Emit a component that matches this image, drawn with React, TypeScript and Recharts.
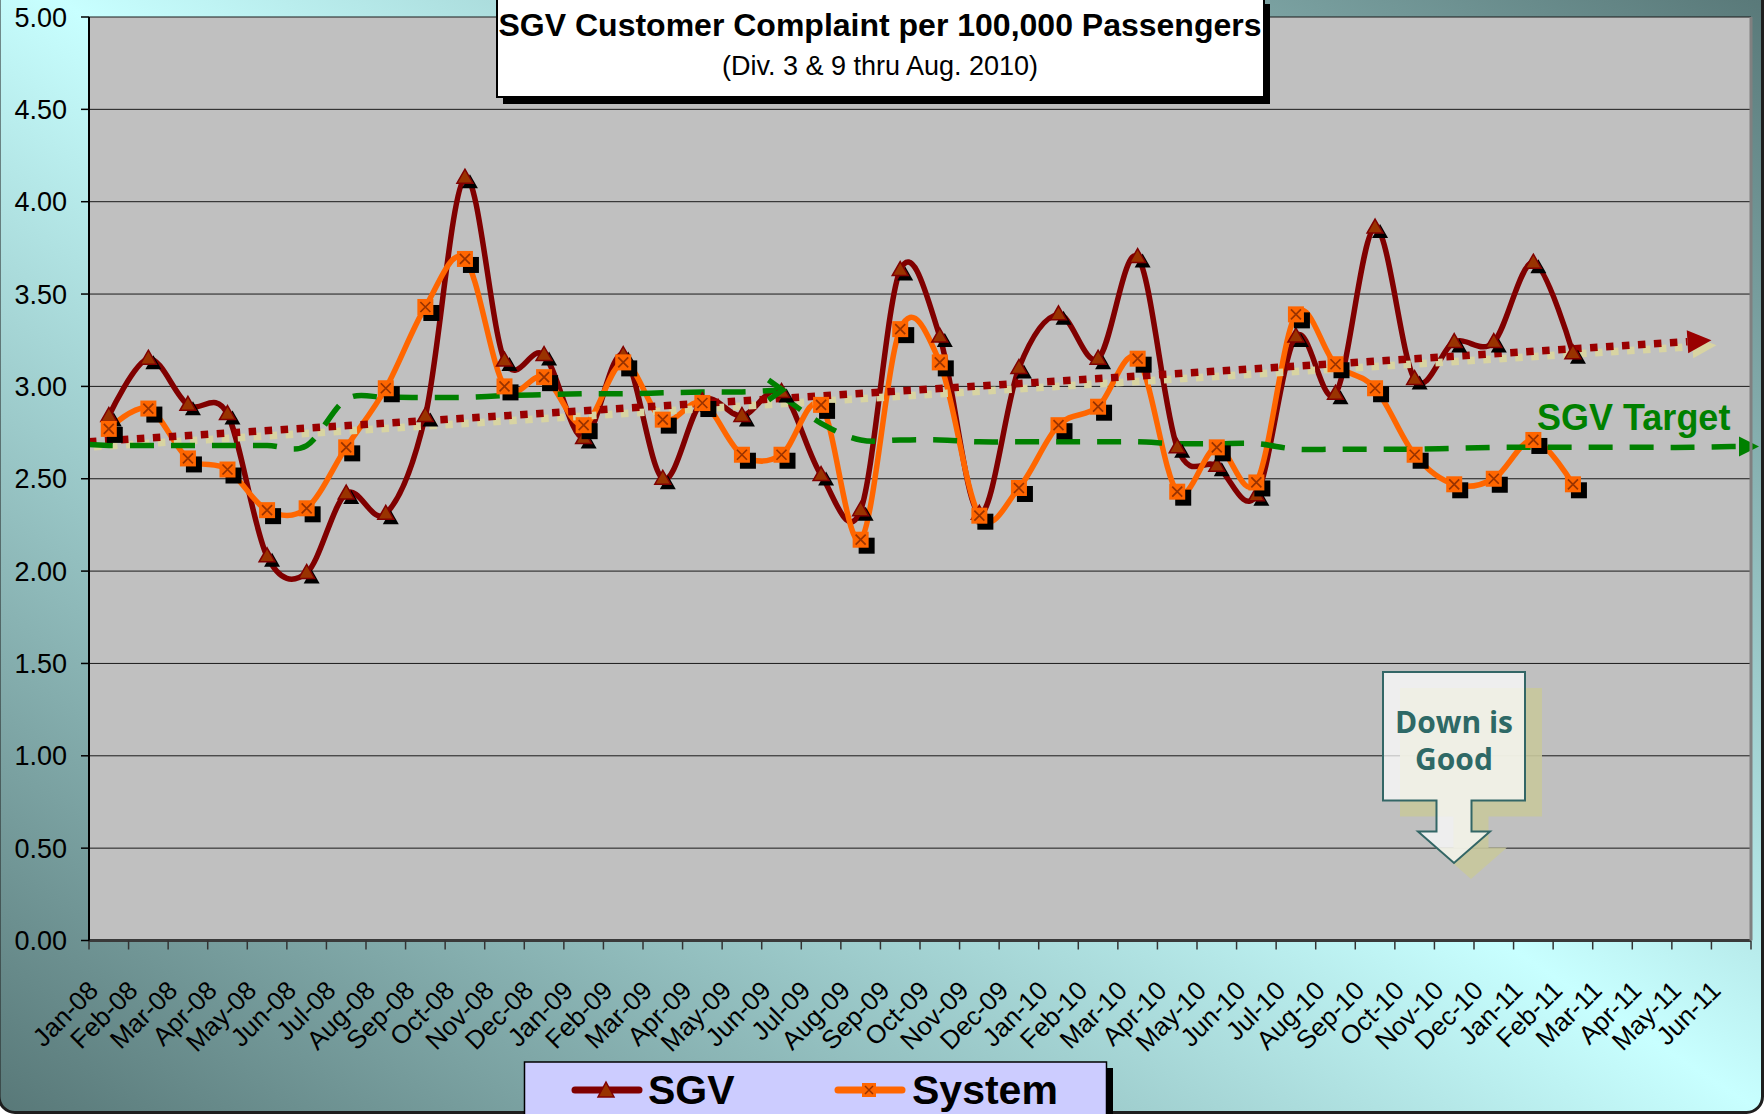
import React from 'react';
import { LineChart, Line, XAxis, YAxis, CartesianGrid, ReferenceLine } from 'recharts';

// ---------- data ----------
const months = [
  'Jan-08', 'Feb-08', 'Mar-08', 'Apr-08', 'May-08', 'Jun-08', 'Jul-08', 'Aug-08', 'Sep-08', 'Oct-08', 'Nov-08', 'Dec-08',
  'Jan-09', 'Feb-09', 'Mar-09', 'Apr-09', 'May-09', 'Jun-09', 'Jul-09', 'Aug-09', 'Sep-09', 'Oct-09', 'Nov-09', 'Dec-09',
  'Jan-10', 'Feb-10', 'Mar-10', 'Apr-10', 'May-10', 'Jun-10', 'Jul-10', 'Aug-10', 'Sep-10', 'Oct-10', 'Nov-10', 'Dec-10',
  'Jan-11', 'Feb-11', 'Mar-11', 'Apr-11', 'May-11', 'Jun-11',
];

const sgvValues = [
  2.84, 3.15, 2.90, 2.85, 2.08, 1.99, 2.42, 2.31, 2.84, 4.13, 3.14, 3.17,
  2.72, 3.17, 2.50, 2.92, 2.84, 2.97, 2.52, 2.33, 3.63, 3.27, 2.31, 3.10,
  3.39, 3.15, 3.70, 2.67, 2.57, 2.41, 3.27, 2.96, 3.86, 3.04, 3.24, 3.24,
  3.67, 3.18,
];

const systemValues = [
  2.77, 2.88, 2.61, 2.55, 2.33, 2.34, 2.67, 2.99, 3.43, 3.69, 3.00, 3.05,
  2.79, 3.13, 2.82, 2.91, 2.63, 2.63, 2.90, 2.17, 3.31, 3.13, 2.30, 2.45,
  2.79, 2.89, 3.15, 2.43, 2.67, 2.48, 3.39, 3.12, 2.99, 2.63, 2.47, 2.50,
  2.71, 2.47,
];

// SGV Target (drawn in two pieces): first piece Jan-08 .. Jun-09
const TARGET_A_START = 2.685; // at left edge of plot
const targetAValues = [2.68, 2.68, 2.68, 2.68, 2.68, 2.68, 2.93, 2.94, 2.94, 2.94, 2.95, 2.955, 2.96, 2.96, 2.965, 2.97, 2.97, 2.98];
// second piece Jun-09 .. Jun-11
const TARGET_B_FROM = 17;
const targetBValues = [2.95, 2.80, 2.71, 2.71, 2.71, 2.70, 2.70, 2.70, 2.70, 2.70, 2.69, 2.69, 2.69, 2.66, 2.66, 2.66, 2.66, 2.665, 2.67, 2.67, 2.67, 2.67, 2.67, 2.67, 2.675];
const TARGET_B_END = 2.675; // at right edge of plot

// SGV linear trend (start at left edge, end with arrow)
const trendStart = { x: -0.5, y: 2.70 };
const trendEnd = { x: 40.5, y: 3.25 };

const yTicks = [0, 0.5, 1, 1.5, 2, 2.5, 3, 3.5, 4, 4.5, 5];

// ---------- layout ----------
const W = 1764;
const H = 1114;
const PLOT = { left: 89, right: 1751, top: 17, bottom: 940.5 };
const BW = (PLOT.right - PLOT.left) / months.length;
const FONT = "'Liberation Sans', Arial, Helvetica, sans-serif";

const chartData = [
  { x: -0.5, targetA: TARGET_A_START },
  ...months.map((m, i) => ({
    x: i,
    month: m,
    sgv: i < sgvValues.length ? sgvValues[i] : null,
    system: i < systemValues.length ? systemValues[i] : null,
    targetA: i < targetAValues.length ? targetAValues[i] : null,
    targetB: i >= TARGET_B_FROM ? targetBValues[i - TARGET_B_FROM] : null,
  })),
  { x: months.length - 0.5, targetB: TARGET_B_END },
];

const xTickValues = months.map((_, i) => i - 0.5).concat([months.length - 0.5]);

// ---------- Excel-like smoothing (cardinal / Catmull-Rom) ----------
class CardinalCurve {
  _context: any;
  _k: number;
  _x0 = NaN; _x1 = NaN; _x2 = NaN;
  _y0 = NaN; _y1 = NaN; _y2 = NaN;
  _point = 0;
  _line: number = NaN;
  constructor(context: any, k: number) {
    this._context = context;
    this._k = k;
  }
  areaStart() { this._line = 0; }
  areaEnd() { this._line = NaN; }
  lineStart() {
    this._x0 = this._x1 = this._x2 = this._y0 = this._y1 = this._y2 = NaN;
    this._point = 0;
  }
  bez(x: number, y: number) {
    this._context.bezierCurveTo(
      this._x1 + this._k * (this._x2 - this._x0),
      this._y1 + this._k * (this._y2 - this._y0),
      this._x2 + this._k * (this._x1 - x),
      this._y2 + this._k * (this._y1 - y),
      this._x2,
      this._y2,
    );
  }
  lineEnd() {
    switch (this._point) {
      case 2: this._context.lineTo(this._x2, this._y2); break;
      case 3: this.bez(this._x1, this._y1); break;
      default: break;
    }
    if (this._line || (this._line !== 0 && this._point === 1)) this._context.closePath();
    this._line = 1 - this._line;
  }
  point(x: number, y: number) {
    x = +x; y = +y;
    switch (this._point) {
      case 0:
        this._point = 1;
        if (this._line) this._context.lineTo(x, y); else this._context.moveTo(x, y);
        break;
      case 1:
        this._point = 2;
        this._x1 = x; this._y1 = y;
        break;
      case 2:
        this._point = 3;
        this.bez(x, y);
        break;
      default:
        this.bez(x, y);
        break;
    }
    this._x0 = this._x1; this._x1 = this._x2; this._x2 = x;
    this._y0 = this._y1; this._y1 = this._y2; this._y2 = y;
  }
}
const smooth = (context: any) => new CardinalCurve(context, 1 / 6);

// ---------- markers ----------
const ok = (v: any) => typeof v === 'number' && isFinite(v);

const TriangleDot = (props: any) => {
  const { cx, cy, index } = props;
  if (!ok(cx) || !ok(cy)) return <g key={`t-${index}`} />;
  const tri = (dx: number, dy: number) =>
    `${cx + dx},${cy - 8.5 + dy} ${cx + 8 + dx},${cy + 5.5 + dy} ${cx - 8 + dx},${cy + 5.5 + dy}`;
  return (
    <g key={`t-${index}`}>
      <polygon points={tri(5, 5)} fill="#000" />
      <polygon points={tri(0, 0)} fill="#993300" stroke="#800000" strokeWidth={1.5} />
    </g>
  );
};

const SquareDot = (props: any) => {
  const { cx, cy, index } = props;
  if (!ok(cx) || !ok(cy)) return <g key={`s-${index}`} />;
  return (
    <g key={`s-${index}`}>
      <rect x={cx - 8 + 6} y={cy - 8 + 6} width={16} height={16} fill="#000" />
      <rect x={cx - 8} y={cy - 8} width={16} height={16} fill="#ff6600" />
      <path d={`M${cx - 5},${cy - 5} L${cx + 5},${cy + 5} M${cx + 5},${cy - 5} L${cx - 5},${cy + 5}`} stroke="#993300" strokeWidth={1.7} />
    </g>
  );
};

const ChevronDot = (props: any) => {
  const { cx, cy, index, payload } = props;
  if (!ok(cx) || !ok(cy) || !payload || payload.x !== TARGET_B_FROM) return <g key={`c-${index}`} />;
  return (
    <polyline
      key={`c-${index}`}
      points={`${cx - 13},${cy - 10} ${cx + 1},${cy} ${cx - 13},${cy + 10}`}
      fill="none"
      stroke="#008000"
      strokeWidth={5.5}
    />
  );
};

const EndArrowDot = (props: any) => {
  const { cx, cy, index, payload } = props;
  if (!ok(cx) || !ok(cy) || !payload || payload.x !== months.length - 0.5) return <g key={`e-${index}`} />;
  return (
    <polygon
      key={`e-${index}`}
      points={`${cx + 8},${cy} ${cx - 12},${cy - 10} ${cx - 12},${cy + 10}`}
      fill="#008000"
    />
  );
};

// ---------- trend line shape ----------
const TrendShape = (p: any) => {
  const { x1, y1, x2, y2 } = p;
  if (![x1, y1, x2, y2].every(ok)) return <g />;
  const ang = Math.atan2(y2 - y1, x2 - x1);
  const c = Math.cos(ang);
  const s = Math.sin(ang);
  const L = 24;
  const hw = 11.5;
  const bx = x2 - L * c;
  const by = y2 - L * s;
  const head = (dx: number, dy: number) =>
    `${x2 + dx},${y2 + dy} ${bx - hw * s + dx},${by + hw * c + dy} ${bx + hw * s + dx},${by - hw * c + dy}`;
  return (
    <g>
      <line x1={x1 + 5} y1={y1 + 5} x2={bx + 5} y2={by + 5} stroke="#d8d4a2" strokeWidth={7.5} strokeDasharray="7.5 8.5" />
      <polygon points={head(5, 5)} fill="#d8d4a2" />
      <line x1={x1} y1={y1} x2={bx} y2={by} stroke="#990000" strokeWidth={7.5} strokeDasharray="7.5 8.5" />
      <polygon points={head(0, 0)} fill="#990000" />
    </g>
  );
};

// ---------- x tick (labels centred in each month band) ----------
const XTick = (props: any) => {
  const { x, payload } = props;
  const idx = Math.round(payload.value + 0.5);
  if (idx < 0 || idx >= months.length) return <g />;
  const ax = x + BW / 2 - 9;
  const ay = 992;
  return (
    <text
      x={ax}
      y={ay}
      transform={`rotate(-45 ${ax} ${ay})`}
      textAnchor="end"
      fontSize={26}
      fontFamily={FONT}
      fill="#000"
    >
      {months[idx]}
    </text>
  );
};

export default function App() {
  const calloutPath = (dx: number, dy: number) =>
    `M${1383 + dx},${672 + dy} L${1525 + dx},${672 + dy} L${1525 + dx},${800.5 + dy} L${1471.5 + dx},${800.5 + dy} ` +
    `L${1471.5 + dx},${831.5 + dy} L${1490 + dx},${831.5 + dy} L${1454 + dx},${863 + dy} L${1418 + dx},${831.5 + dy} ` +
    `L${1436.5 + dx},${831.5 + dy} L${1436.5 + dx},${800.5 + dy} L${1383 + dx},${800.5 + dy} Z`;

  return (
    <div style={{ position: 'relative', width: W, height: H, overflow: 'hidden', fontFamily: FONT }}>
      <style>{'body{margin:0;}'}</style>
      <svg width={W} height={H} style={{ position: 'absolute', left: 0, top: 0 }}>
        <defs>
          <linearGradient id="bgGrad" x1="1" y1="0" x2="0" y2="1">
            <stop offset="0" stopColor="#557474" />
            <stop offset="0.5" stopColor="#c8ffff" />
            <stop offset="1" stopColor="#587878" />
          </linearGradient>
        </defs>
        <rect x={-1} y={-40} width={W - 0.5} height={H + 40 - 1.5} rx={16} ry={16} fill="url(#bgGrad)" stroke="#1e1e1e" strokeWidth={3} />
      </svg>

      <div style={{ position: 'absolute', left: 0, top: 0 }}>
        <LineChart
          width={W}
          height={H}
          data={chartData}
          margin={{ top: PLOT.top, right: W - PLOT.right, bottom: 0, left: 0 }}
        >
          <CartesianGrid vertical={false} stroke="#1a1a1a" strokeWidth={1} fill="#c0c0c0" fillOpacity={1} />
          <XAxis
            type="number"
            dataKey="x"
            domain={[-0.5, months.length - 0.5]}
            ticks={xTickValues}
            interval={0}
            height={H - PLOT.bottom}
            tickSize={9}
            tickLine={{ stroke: '#333', strokeWidth: 1.5 }}
            axisLine={{ stroke: '#3a3a3a', strokeWidth: 3 }}
            tick={<XTick />}
          />
          <YAxis
            type="number"
            domain={[0, 5]}
            ticks={yTicks}
            interval={0}
            width={PLOT.left}
            tickSize={8}
            tickMargin={14}
            tickFormatter={(v: number) => v.toFixed(2)}
            axisLine={{ stroke: '#000', strokeWidth: 2 }}
            tickLine={{ stroke: '#000', strokeWidth: 1.5 }}
            tick={{ fill: '#000', fontSize: 27, fontFamily: FONT }}
          />
          <Line
            dataKey="sgv"
            type={smooth as any}
            stroke="#800000"
            strokeWidth={5.5}
            dot={TriangleDot}
            activeDot={false}
            isAnimationActive={false}
          />
          <Line
            dataKey="system"
            type={smooth as any}
            stroke="#ff6600"
            strokeWidth={5.5}
            dot={SquareDot}
            activeDot={false}
            isAnimationActive={false}
          />
          <ReferenceLine
            segment={[trendStart, trendEnd]}
            ifOverflow="visible"
            shape={TrendShape}
          />
          <Line
            dataKey="targetA"
            type={smooth as any}
            stroke="#008000"
            strokeWidth={5.5}
            strokeDasharray="24 17"
            dot={ChevronDot}
            activeDot={false}
            isAnimationActive={false}
          />
          <Line
            dataKey="targetB"
            type={smooth as any}
            stroke="#008000"
            strokeWidth={5.5}
            strokeDasharray="24 17"
            dot={EndArrowDot}
            activeDot={false}
            isAnimationActive={false}
          />
        </LineChart>
      </div>

      <svg width={W} height={H} style={{ position: 'absolute', left: 0, top: 0, pointerEvents: 'none' }}>
        {/* plot right border */}
        <line x1={PLOT.right} y1={PLOT.top} x2={PLOT.right} y2={PLOT.bottom} stroke="#808080" strokeWidth={3} />

        {/* title box */}
        <rect x={503} y={4} width={767} height={100} fill="#000" />
        <rect x={497} y={-3} width={767} height={100} fill="#fff" stroke="#000" strokeWidth={2} />
        <text x={880} y={36} textAnchor="middle" fontFamily={FONT} fontWeight="bold" fontSize={32} fill="#000">
          SGV Customer Complaint per 100,000 Passengers
        </text>
        <text x={880} y={75} textAnchor="middle" fontFamily={FONT} fontSize={27} fill="#000">
          (Div. 3 &amp; 9 thru Aug. 2010)
        </text>

        {/* SGV Target label */}
        <text x={1537} y={430} fontFamily={FONT} fontWeight="bold" fontSize={36} fill="#008000">
          SGV Target
        </text>

        {/* Down is Good callout */}
        <path d={calloutPath(17, 16)} fill="#c8c89c" fillOpacity={0.9} />
        <path d={calloutPath(0, 0)} fill="#ffffff" fillOpacity={0.72} stroke="#336666" strokeWidth={2} />
        <text x={1454} y={733} textAnchor="middle" fontFamily="'Open Sans', sans-serif" fontWeight={700} fontSize={30} fill="#2e6966">
          Down is
        </text>
        <text x={1454} y={770} textAnchor="middle" fontFamily="'Open Sans', sans-serif" fontWeight={700} fontSize={30} fill="#2e6966">
          Good
        </text>

        {/* legend */}
        <rect x={1106} y={1068} width={7} height={50} fill="#000" />
        <rect x={524.5} y={1062} width={582} height={60} fill="#ccccff" stroke="#000" strokeWidth={1.5} />
        <line x1={575} y1={1090} x2={639} y2={1090} stroke="#800000" strokeWidth={7} strokeLinecap="round" />
        <polygon points="606,1082 614,1097 598,1097" fill="#993300" stroke="#800000" strokeWidth={1.5} />
        <text x={648} y={1104} fontFamily={FONT} fontWeight="bold" fontSize={41} fill="#000">SGV</text>
        <line x1={838} y1={1090} x2={902} y2={1090} stroke="#ff6600" strokeWidth={7} strokeLinecap="round" />
        <rect x={862} y={1083} width={14} height={14} fill="#ff6600" />
        <path d="M865,1086 L873,1094 M873,1086 L865,1094" stroke="#993300" strokeWidth={1.5} />
        <text x={912} y={1104} fontFamily={FONT} fontWeight="bold" fontSize={41} fill="#000">System</text>
      </svg>
    </div>
  );
}
